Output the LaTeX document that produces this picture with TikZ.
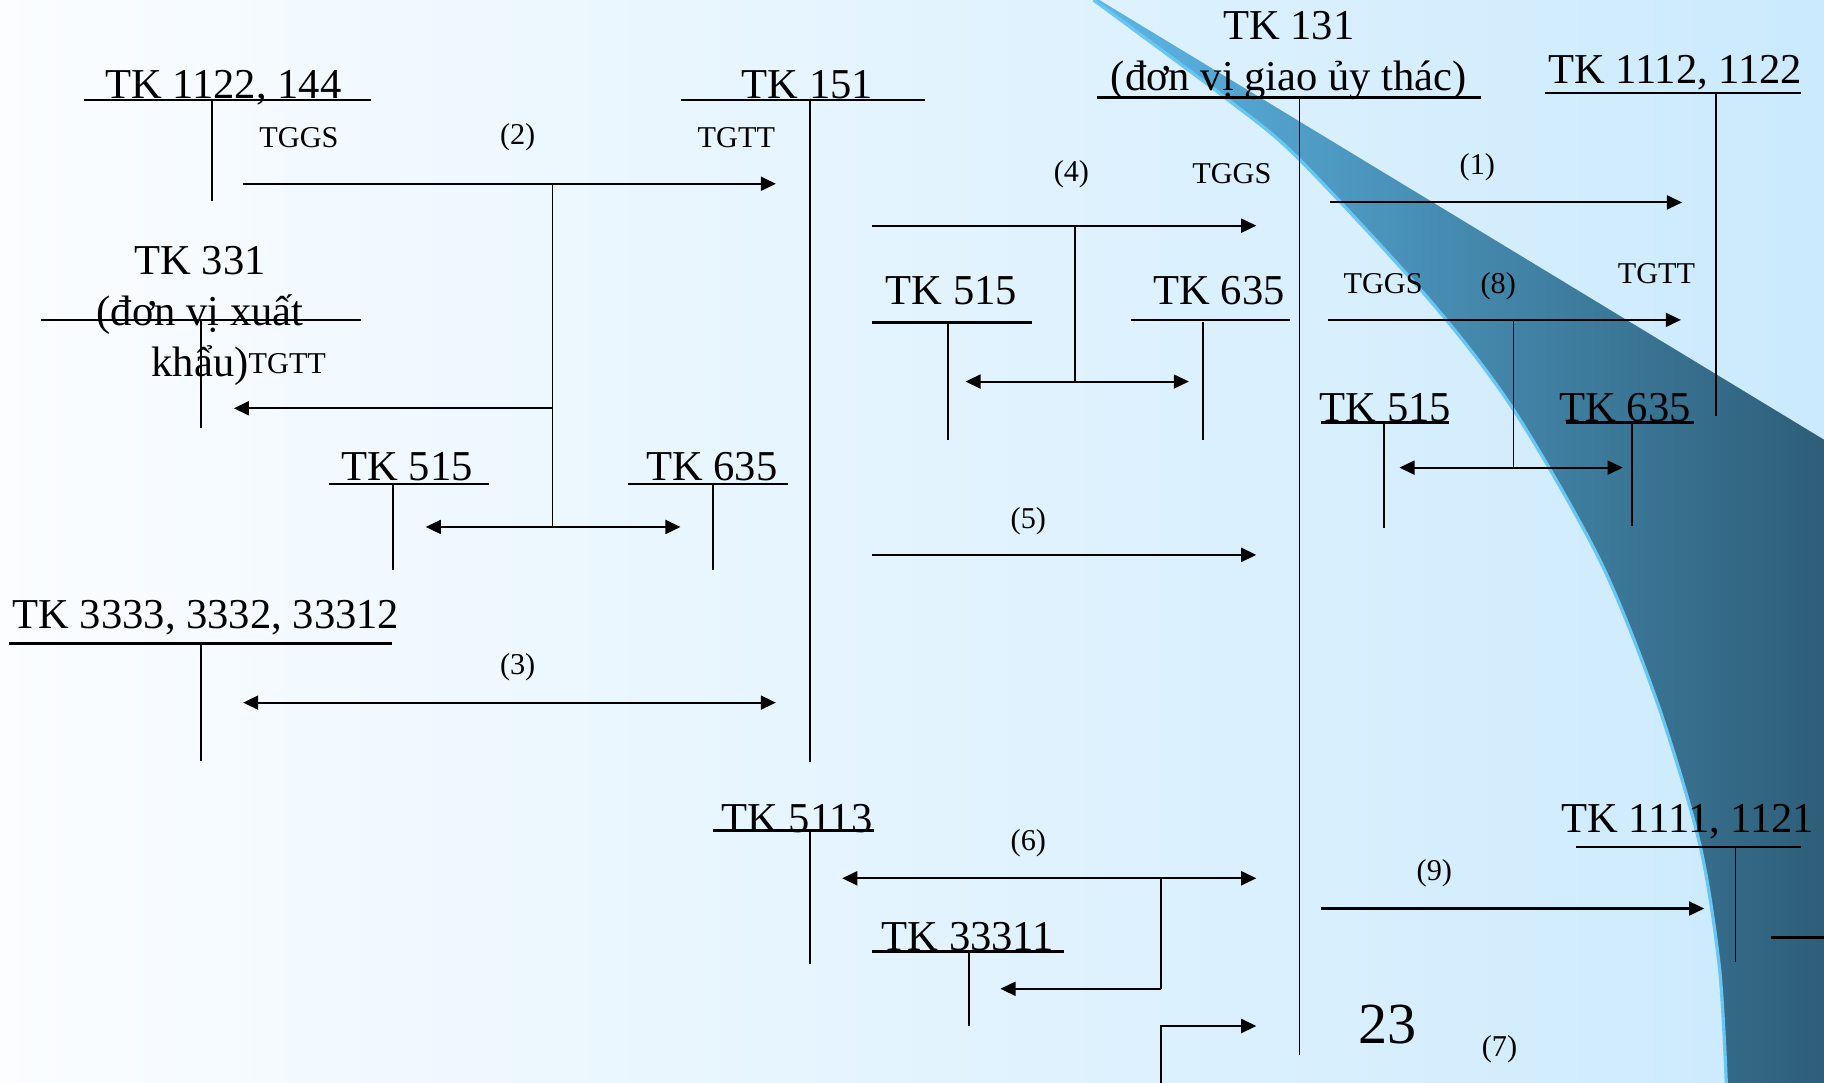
\documentclass[tikz,border=0pt]{standalone}
\usepackage{fontspec}
\setmainfont{Liberation Serif}
\usetikzlibrary{arrows.meta}
\definecolor{bgleft}{HTML}{FBFDFF}
\definecolor{bgright}{HTML}{CBEAFD}
\definecolor{swlight}{HTML}{5CB6E6}
\definecolor{swdark}{HTML}{2E5E78}
\definecolor{swedge}{HTML}{66C6F4}
\newcommand{\acctfont}{\fontsize{18.3}{22}\selectfont}
\newcommand{\notefont}{\fontsize{13}{15}\selectfont}

\begin{document}
\begin{tikzpicture}[x=0.5pt,y=-0.5pt,>={Triangle[length=6.5pt,width=6pt]},
    acct/.style={font=\acctfont,inner sep=0pt,anchor=base},
    note/.style={font=\notefont,inner sep=0pt},
    tline/.style={line width=1.1pt},
    vline/.style={line width=0.75pt},
    flow/.style={line width=0.9pt}]
      % slide background and swoosh
      \useasboundingbox (0,0) rectangle (1568,931);
      \shade[left color=bgleft,right color=bgright] (0,0) rectangle (1568,931);
      \shade[left color=swlight,right color=swdark]
        (945,0) -- (1568,378) -- (1568,931) -- (1484,931) -- plot[smooth] coordinates
        {(1484,931) (1478,831) (1461,725) (1424,602) (1375,481) (1301,352) (1229,258) (1117,137) (1056,86) (940,0)} -- cycle;
      \draw[swedge,line width=1.4pt] plot[smooth] coordinates
        {(1484,931) (1478,831) (1461,725) (1424,602) (1375,481) (1301,352) (1229,258) (1117,137) (1056,86) (940,0)};

      % accounts, left half
      \node[acct] (tk1122) at (192,85) {TK 1122, 144};
      \draw[tline] (72,86) -- (319,86);  \draw[vline] (182,86) -- (182,173);
      \node[acct] (tk151) at (694,85) {TK 151};
      \draw[tline] (585,86) -- (795,86);  \draw[vline] (696,86) -- (696,655);
      % base sits on the last line
      \node[acct,align=center] (tk331) at (172,324) {TK 331\\(đơn vị xuất\\khẩu)};
      \draw[tline] (35,275) -- (310,275); \draw[vline] (173,275) -- (173,368);
      \node[acct] (tk515a) at (350,413) {TK 515};
      \draw[tline] (283,416) -- (420,416); \draw[vline] (338,416) -- (338,490);
      \node[acct] (tk635a) at (612,413) {TK 635};
      \draw[tline] (540,416) -- (677,416); \draw[vline] (613,416) -- (613,490);
      \node[acct] (tk333x) at (177,540) {TK 3333, 3332, 33312};
      \draw[tline] (8,553) -- (337,553);  \draw[vline] (173,553) -- (173,654);

      % accounts, right half
      \node[acct,align=center] (tk131) at (1108,78) {TK 131\\(đơn vị giao ủy thác)};
      \draw[tline] (943,84) -- (1273,84); \draw[vline] (1117,84) -- (1117,907);
      \node[acct] (tk1112) at (1440,72) {TK 1112, 1122};
      \draw[tline] (1328,80) -- (1548,80); \draw[vline] (1475,80) -- (1475,358);
      \node[acct] (tk515b) at (818,262) {TK 515};
      \draw[tline] (750,277) -- (887,277); \draw[vline] (815,277) -- (815,378);
      \node[acct] (tk635b) at (1048,262) {TK 635};
      \draw[tline] (972,275) -- (1109,275); \draw[vline] (1034,277) -- (1034,378);
      \node[acct] (tk515c) at (1191,362) {TK 515};
      \draw[tline] (1136,363) -- (1246,363); \draw[vline] (1190,363) -- (1190,454);
      \node[acct] (tk635c) at (1397,362) {TK 635};
      \draw[tline] (1346,363) -- (1456,363); \draw[vline] (1403,363) -- (1403,452);
      \node[acct] (tk5113) at (685,716) {TK 5113};
      \draw[tline] (613,714) -- (751,714); \draw[vline] (696,714) -- (696,829);
      \node[acct] (tk33311) at (832,817) {TK 33311};
      \draw[tline] (750,818) -- (915,818); \draw[vline] (833,818) -- (833,882);
      \node[acct] (tk1111) at (1451,716) {TK 1111, 1121};
      \draw[tline] (1355,728) -- (1548,728); \draw[vline] (1492,728) -- (1492,827);
      \draw[tline] (1522,806) -- (1568,806);

      % (2)
      \coordinate (p2a) at (209,158); \coordinate (p2b) at (667,158);
      \coordinate (p2j) at (475,158); \coordinate (p2l) at (201,351);
      \coordinate (p2m) at (366,453); \coordinate (p2n) at (585,453);
      \draw[flow,->] (p2a) -- (p2b);
      \draw[vline] (p2j) -- (p2j |- p2m);
      \draw[flow,->] (p2j |- p2l) -- (p2l);
      \draw[flow,<->] (p2m) -- (p2n);
      \node[note] (tggs2) at (257,118) {TGGS};
      \node[note] (n2) at (445,118) {(2)};
      \node[note] (tgtt2) at (633,118) {TGTT};
      \node[note] (tgtt331) at (247,313) {TGTT};

      % (3)
      \coordinate (p3a) at (209,604); \coordinate (p3b) at (667,604);
      \draw[flow,<->] (p3a) -- (p3b);
      \node[note] (n3) at (445,574) {(3)};

      % (4) and (5)
      \coordinate (p4a) at (750,194); \coordinate (p4b) at (1080,194);
      \coordinate (p4j) at (924,194);
      \coordinate (p4m) at (830,328); \coordinate (p4n) at (1022,328);
      \draw[flow,->] (p4a) -- (p4b);
      \draw[vline] (p4j) -- (p4j |- p4m);
      \draw[flow,<->] (p4m) -- (p4n);
      \node[note] (n4) at (921,150) {(4)};
      \node[note] (tggs4) at (1059,149) {TGGS};
      \coordinate (p5a) at (750,477); \coordinate (p5b) at (1080,477);
      \draw[flow,->] (p5a) -- (p5b);
      \node[note] (n5) at (884,448) {(5)};

      % (1) and (8)
      \coordinate (p1a) at (1143,174); \coordinate (p1b) at (1446,174);
      \draw[flow,->] (p1a) -- (p1b);
      \node[note] (n1) at (1270,144) {(1)};
      \coordinate (p8a) at (1142,275); \coordinate (p8b) at (1445,275);
      \coordinate (p8j) at (1301,275);
      \coordinate (p8m) at (1203,402); \coordinate (p8n) at (1395,402);
      \draw[flow,->] (p8a) -- (p8b);
      \draw[vline] (p8j) -- (p8j |- p8m);
      \draw[flow,<->] (p8m) -- (p8n);
      \node[note] (tggs8) at (1189,244) {TGGS};
      \node[note] (n8) at (1288,246) {(8)};
      \node[note] (tgtt8) at (1424,235) {TGTT};

      % (6), (7) and (9)
      \coordinate (p6a) at (724,755); \coordinate (p6b) at (1080,755);
      \coordinate (p6j) at (998,755); \coordinate (p6l) at (860,850);
      \draw[flow,<->] (p6a) -- (p6b);
      \draw[vline] (p6j) -- (p6j |- p6l);
      \draw[flow,->] (p6j |- p6l) -- (p6l);
      \node[note] (n6) at (884,725) {(6)};
      \coordinate (p7a) at (998,931); \coordinate (p7b) at (1080,882);
      \draw[flow,->] (p7a) |- (p7b);
      \node[note] (n7) at (1289,902) {(7)};
      \coordinate (p9a) at (1136,781); \coordinate (p9b) at (1465,781);
      \draw[flow,->] (p9a) -- (p9b);
      \node[note] (n9) at (1233,751) {(9)};

      % slide number
      \node[inner sep=0pt,font=\fontsize{25}{30}\selectfont] (pg) at (1193,881) {23};
    \end{tikzpicture}
\end{document}
